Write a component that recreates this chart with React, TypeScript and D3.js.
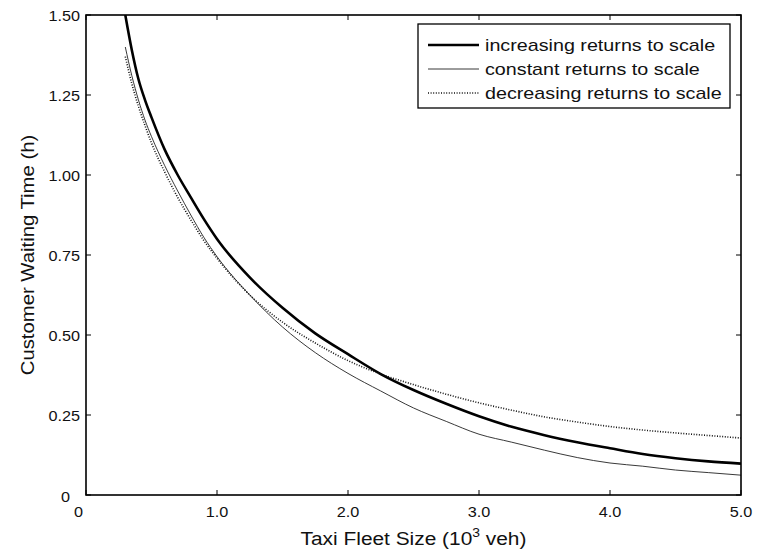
import React from "react";
import * as d3 from "d3";

// Fleet size in thousands of vehicles
const fleetSize = [0.3, 0.35, 0.4, 0.45, 0.5, 0.6, 0.7, 0.8, 0.9, 1.0, 1.25, 1.5, 1.75, 2.0, 2.25, 2.5, 2.75, 3.0, 3.25, 3.5, 3.75, 4.0, 4.25, 4.5, 4.75, 5.0];

// Customer waiting time (h) for each returns-to-scale scenario
const increasingReturns = [1.5, 1.39, 1.3, 1.235, 1.18, 1.08, 1.0, 0.93, 0.862, 0.8, 0.68, 0.585, 0.505, 0.44, 0.378, 0.328, 0.285, 0.246, 0.213, 0.187, 0.165, 0.146, 0.128, 0.115, 0.105, 0.098];
const constantReturns = [1.4, 1.31, 1.235, 1.172, 1.12, 1.03, 0.95, 0.875, 0.805, 0.745, 0.625, 0.525, 0.445, 0.38, 0.325, 0.272, 0.23, 0.19, 0.165, 0.14, 0.117, 0.1, 0.09, 0.078, 0.07, 0.062];
const decreasingReturns = [1.37, 1.285, 1.215, 1.155, 1.1, 1.01, 0.93, 0.86, 0.795, 0.74, 0.625, 0.54, 0.475, 0.42, 0.378, 0.345, 0.315, 0.288, 0.265, 0.244, 0.228, 0.214, 0.203, 0.194, 0.186, 0.178];

const seriesNames = ["increasing returns to scale", "constant returns to scale", "decreasing returns to scale"];

const xTicks = [0, 1, 2, 3, 4, 5];
const xTickLabels = ["0", "1.0", "2.0", "3.0", "4.0", "5.0"];
const yTicks = [0, 0.25, 0.5, 0.75, 1.0, 1.25, 1.5];
const yTickLabels = ["0", "0.25", "0.50", "0.75", "1.00", "1.25", "1.50"];

const W = 761;
const H = 550;
const M = { left: 86, right: 20, top: 15, bottom: 55 };
const STRETCH = 1.16;

const styles = [
  { width: 2.6, dash: undefined as string | undefined, color: "#000" },
  { width: 0.9, dash: undefined as string | undefined, color: "#222" },
  { width: 1.6, dash: "1,1.6", color: "#111" },
];

type LabelProps = { x: number; y: number; size: number; anchor?: string; rotate?: number; children: React.ReactNode };

// Text with the slightly widened glyphs of the exported figure
function Label({ x, y, size, anchor = "start", rotate = 0, children }: LabelProps) {
  const t = `translate(${x},${y})${rotate ? ` rotate(${rotate})` : ""} scale(${STRETCH},1)`;
  return (
    <g transform={t}>
      <text x={0} y={0} fontSize={size} textAnchor={anchor} fill="#111">
        {children}
      </text>
    </g>
  );
}

export default function App() {
  const x = d3.scaleLinear().domain([0, 5]).range([M.left, W - M.right]);
  const y = d3.scaleLinear().domain([0, 1.5]).range([H - M.bottom, M.top]);
  const font = "Arial, 'Liberation Sans', Helvetica, sans-serif";
  const allSeries = [increasingReturns, constantReturns, decreasingReturns];
  const line = d3
    .line<number>()
    .x((_, i) => x(fleetSize[i]))
    .y((d) => y(d))
    .curve(d3.curveMonotoneX);

  const x0 = x(0), x1 = x(5), y0 = y(0), y1 = y(1.5);
  const tick = 5;

  const lg = { left: 418, top: 24, right: 730, bottom: 108 };
  const rowY = [45, 69, 93];

  return (
    <svg width={W} height={H} style={{ position: "absolute", left: 0, top: 0, background: "#fff" }} fontFamily={font}>
      <rect x={0} y={0} width={W} height={H} fill="#fff" />
      <defs>
        <clipPath id="plotArea">
          <rect x={x0} y={y1} width={x1 - x0} height={y0 - y1} />
        </clipPath>
      </defs>

      {/* data lines */}
      <g clipPath="url(#plotArea)">
        {allSeries.map((s, i) => (
          <path key={i} d={line(s) || ""} fill="none" stroke={styles[i].color} strokeWidth={styles[i].width} strokeDasharray={styles[i].dash} />
        ))}
      </g>

      {/* frame */}
      <rect x={x0} y={y1} width={x1 - x0} height={y0 - y1} fill="none" stroke="#000" strokeWidth={1.6} />

      {/* x ticks, inward on bottom and top */}
      {xTicks.map((t, i) => (
        <g key={"xt" + i}>
          <line x1={x(t)} x2={x(t)} y1={y0} y2={y0 - tick} stroke="#000" strokeWidth={1} />
          <line x1={x(t)} x2={x(t)} y1={y1} y2={y1 + tick} stroke="#000" strokeWidth={1} />
          <Label x={x(t) - (t === 0 ? 7.5 : 0)} y={y0 + 22} size={14} anchor="middle">
            {xTickLabels[i]}
          </Label>
        </g>
      ))}

      {/* y ticks, inward on left and right */}
      {yTicks.map((t, i) => (
        <g key={"yt" + i}>
          <line x1={x0} x2={x0 + tick} y1={y(t)} y2={y(t)} stroke="#000" strokeWidth={1} />
          <line x1={x1} x2={x1 - tick} y1={y(t)} y2={y(t)} stroke="#000" strokeWidth={1} />
          <Label x={t === 0 ? x0 - 16 : x0 - 6} y={t === 0 ? y(t) + 7 : y(t) + 6} size={14} anchor="end">
            {yTickLabels[i]}
          </Label>
        </g>
      ))}

      {/* axis titles */}
      <Label x={(x0 + x1) / 2} y={545} size={18} anchor="middle">
        Taxi Fleet Size (10<tspan dy={-8} fontSize={12}>3</tspan><tspan dy={8}> veh)</tspan>
      </Label>
      <Label x={34} y={(y0 + y1) / 2} size={17.5} anchor="middle" rotate={-90}>
        Customer Waiting Time (h)
      </Label>

      {/* legend */}
      <rect x={lg.left} y={lg.top} width={lg.right - lg.left} height={lg.bottom - lg.top} fill="#fff" stroke="#000" strokeWidth={1.3} />
      {seriesNames.map((name, i) => (
        <g key={"lg" + i}>
          <line x1={428} x2={479} y1={rowY[i]} y2={rowY[i]} stroke={styles[i].color} strokeWidth={styles[i].width} strokeDasharray={styles[i].dash} />
          <Label x={485} y={rowY[i] + 6} size={17}>
            {name}
          </Label>
        </g>
      ))}
    </svg>
  );
}
